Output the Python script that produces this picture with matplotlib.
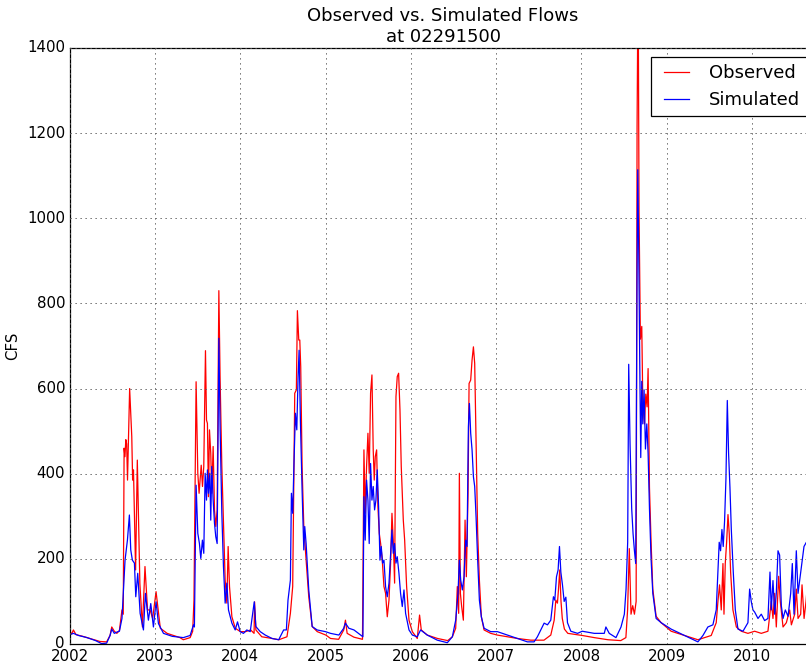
import datetime as dt
import matplotlib
matplotlib.use("Agg")
import matplotlib.pyplot as plt
import matplotlib.dates as mdates

# Observed flows (decimal year, cfs)
obs_t = [
    2002.00, 2002.02, 2002.04, 2002.07, 2002.15, 2002.25, 2002.35, 2002.43, 2002.47, 2002.49,
    2002.52, 2002.55, 2002.58, 2002.61, 2002.625, 2002.635, 2002.645, 2002.655, 2002.665, 2002.675,
    2002.70, 2002.715, 2002.725, 2002.735, 2002.745, 2002.77, 2002.79, 2002.82, 2002.85, 2002.88,
    2002.91, 2002.94, 2002.97, 2003.01, 2003.06, 2003.14, 2003.29, 2003.33, 2003.41, 2003.44,
    2003.455, 2003.48, 2003.50, 2003.515, 2003.54, 2003.555, 2003.57, 2003.59, 2003.602, 2003.613,
    2003.625, 2003.637, 2003.652, 2003.664, 2003.68, 2003.696, 2003.711, 2003.727, 2003.747, 2003.762,
    2003.782, 2003.801, 2003.821, 2003.841, 2003.856, 2003.872, 2003.90, 2003.94, 2004.00, 2004.06,
    2004.12, 2004.16, 2004.166, 2004.181, 2004.25, 2004.37, 2004.45, 2004.545, 2004.585, 2004.612,
    2004.636, 2004.655, 2004.667, 2004.683, 2004.695, 2004.706, 2004.722, 2004.742, 2004.769, 2004.80,
    2004.84, 2004.90, 2005.00, 2005.055, 2005.15, 2005.21, 2005.23, 2005.25, 2005.33, 2005.43,
    2005.447, 2005.462, 2005.478, 2005.494, 2005.509, 2005.525, 2005.541, 2005.556, 2005.568, 2005.58,
    2005.596, 2005.611, 2005.627, 2005.643, 2005.662, 2005.682, 2005.701, 2005.721, 2005.741, 2005.76,
    2005.776, 2005.791, 2005.807, 2005.823, 2005.838, 2005.854, 2005.87, 2005.885, 2005.909, 2005.925,
    2005.948, 2005.976, 2006.015, 2006.073, 2006.10, 2006.12, 2006.19, 2006.31, 2006.43, 2006.485,
    2006.524, 2006.543, 2006.559, 2006.567, 2006.579, 2006.594, 2006.614, 2006.634, 2006.649, 2006.669,
    2006.681, 2006.70, 2006.716, 2006.732, 2006.747, 2006.763, 2006.782, 2006.802, 2006.825, 2006.857,
    2006.935, 2007.013, 2007.131, 2007.248, 2007.405, 2007.56, 2007.64, 2007.68, 2007.699, 2007.718,
    2007.73, 2007.745, 2007.76, 2007.775, 2007.80, 2007.84, 2008.01, 2008.15, 2008.31, 2008.46,
    2008.52, 2008.54, 2008.56, 2008.58, 2008.60, 2008.62, 2008.64, 2008.651, 2008.663, 2008.674,
    2008.69, 2008.706, 2008.718, 2008.737, 2008.753, 2008.768, 2008.78, 2008.796, 2008.815, 2008.835,
    2008.874, 2008.933, 2009.05, 2009.207, 2009.364, 2009.442, 2009.52, 2009.579, 2009.599, 2009.618,
    2009.638, 2009.658, 2009.67, 2009.685, 2009.701, 2009.717, 2009.732, 2009.748, 2009.775, 2009.815,
    2009.873, 2009.951, 2010.03, 2010.108, 2010.186, 2010.225, 2010.245, 2010.265, 2010.284, 2010.312,
    2010.331, 2010.363, 2010.402, 2010.441, 2010.461, 2010.50, 2010.519, 2010.539, 2010.57, 2010.586,
    2010.61, 2010.633, 2010.649, 2010.70, 2010.75,
]
obs_cfs = [
    28, 24, 33, 22, 18, 12, 6, 5, 20, 40,
    30, 25, 32, 80, 70, 460, 440, 480, 470, 385,
    600, 534, 487, 385, 409, 174, 432, 142, 40, 182,
    80, 80, 60, 123, 37, 25, 15, 10, 15, 30,
    103, 616, 401, 354, 420, 370, 417, 689, 526, 518,
    346, 503, 448, 354, 464, 315, 276, 315, 830, 620,
    417, 291, 150, 96, 229, 135, 64, 37, 29, 29,
    33, 25, 99, 33, 17, 13, 10, 17, 72, 135,
    589, 597, 783, 714, 714, 651, 417, 276, 197, 111,
    41, 29, 21, 13, 11, 33, 56, 25, 16, 11,
    456, 307, 417, 495, 401, 589, 632, 456, 385, 440,
    456, 323, 260, 236, 197, 135, 119, 64, 103, 190,
    307, 244, 143, 581, 628, 636, 550, 417, 291, 244,
    135, 56, 29, 13, 68, 33, 21, 13, 8, 17,
    37, 135, 72, 401, 119, 88, 56, 291, 158, 354,
    612, 620, 667, 698, 659, 479, 260, 150, 64, 33,
    25, 21, 17, 13, 9, 9, 21, 56, 103, 96,
    127, 174, 100, 60, 35, 25, 20, 15, 10, 8,
    15, 80, 224, 70, 90, 70, 100, 1215, 1600, 1015,
    716, 746, 567, 517, 587, 557, 647, 368, 239, 129,
    65, 50, 30, 20, 10, 15, 20, 50, 100, 139,
    80, 189, 70, 189, 239, 304, 259, 169, 80, 40,
    30, 25, 30, 25, 30, 100, 60, 119, 40, 159,
    100, 40, 50, 80, 45, 70, 129, 60, 70, 139,
    60, 100, 139, 90, 60,
]

# Simulated flows (decimal year, cfs)
sim_t = [
    2002.00, 2002.04, 2002.10, 2002.20, 2002.30, 2002.37, 2002.43, 2002.47, 2002.49, 2002.52,
    2002.55, 2002.58, 2002.61, 2002.627, 2002.646, 2002.674, 2002.697, 2002.713, 2002.732, 2002.756,
    2002.772, 2002.795, 2002.823, 2002.862, 2002.885, 2002.92, 2002.948, 2002.979, 2003.01, 2003.038,
    2003.097, 2003.20, 2003.33, 2003.41, 2003.449, 2003.46, 2003.48, 2003.50, 2003.519, 2003.535,
    2003.554, 2003.57, 2003.586, 2003.602, 2003.613, 2003.625, 2003.641, 2003.652, 2003.664, 2003.68,
    2003.696, 2003.711, 2003.727, 2003.747, 2003.762, 2003.782, 2003.801, 2003.821, 2003.841, 2003.86,
    2003.90, 2003.939, 2003.966, 2003.997, 2004.036, 2004.075, 2004.115, 2004.162, 2004.181, 2004.232,
    2004.291, 2004.37, 2004.448, 2004.506, 2004.538, 2004.557, 2004.585, 2004.597, 2004.612, 2004.628,
    2004.644, 2004.66, 2004.675, 2004.687, 2004.702, 2004.722, 2004.742, 2004.753, 2004.769, 2004.80,
    2004.84, 2004.898, 2004.996, 2005.055, 2005.153, 2005.21, 2005.23, 2005.27, 2005.33, 2005.41,
    2005.435, 2005.447, 2005.462, 2005.478, 2005.494, 2005.509, 2005.525, 2005.541, 2005.556, 2005.572,
    2005.588, 2005.603, 2005.619, 2005.635, 2005.65, 2005.666, 2005.682, 2005.701, 2005.721, 2005.741,
    2005.76, 2005.776, 2005.791, 2005.807, 2005.823, 2005.838, 2005.858, 2005.877, 2005.897, 2005.917,
    2005.936, 2005.976, 2006.015, 2006.073, 2006.112, 2006.19, 2006.308, 2006.426, 2006.485, 2006.524,
    2006.551, 2006.567, 2006.583, 2006.602, 2006.622, 2006.641, 2006.657, 2006.673, 2006.685, 2006.70,
    2006.716, 2006.732, 2006.747, 2006.763, 2006.782, 2006.802, 2006.825, 2006.857, 2006.935, 2007.013,
    2007.131, 2007.248, 2007.366, 2007.444, 2007.483, 2007.562, 2007.601, 2007.64, 2007.671, 2007.687,
    2007.707, 2007.726, 2007.742, 2007.758, 2007.777, 2007.797, 2007.817, 2007.836, 2007.875, 2007.954,
    2008.009, 2008.15, 2008.267, 2008.286, 2008.325, 2008.404, 2008.463, 2008.502, 2008.522, 2008.541,
    2008.553, 2008.569, 2008.588, 2008.604, 2008.62, 2008.635, 2008.651, 2008.659, 2008.671, 2008.682,
    2008.694, 2008.706, 2008.718, 2008.733, 2008.749, 2008.765, 2008.78, 2008.796, 2008.815, 2008.835,
    2008.874, 2008.933, 2008.972, 2009.05, 2009.207, 2009.364, 2009.423, 2009.481, 2009.54, 2009.579,
    2009.599, 2009.614, 2009.63, 2009.646, 2009.661, 2009.677, 2009.693, 2009.709, 2009.724, 2009.74,
    2009.756, 2009.779, 2009.803, 2009.834, 2009.893, 2009.951, 2009.971, 2009.99, 2010.01, 2010.03,
    2010.069, 2010.108, 2010.147, 2010.186, 2010.21, 2010.225, 2010.245, 2010.265, 2010.284, 2010.304,
    2010.323, 2010.343, 2010.363, 2010.39, 2010.422, 2010.453, 2010.472, 2010.492, 2010.519, 2010.539,
    2010.558, 2010.578, 2010.609, 2010.637, 2010.70, 2010.75,
]
sim_cfs = [
    22, 25, 20, 15, 8, 1, 2, 20, 35, 25,
    28, 30, 60, 127, 197, 244, 303, 221, 197, 190,
    111, 166, 72, 33, 119, 56, 95, 40, 99, 48,
    25, 18, 15, 20, 45, 40, 373, 260, 236, 201,
    244, 213, 401, 338, 409, 354, 401, 291, 417, 338,
    283, 252, 236, 718, 503, 307, 182, 96, 143, 80,
    49, 33, 52, 29, 25, 33, 29, 99, 41, 29,
    21, 13, 10, 33, 33, 103, 150, 354, 307, 432,
    542, 503, 628, 690, 526, 362, 221, 276, 236, 127,
    41, 33, 29, 25, 21, 37, 49, 37, 33, 21,
    17, 346, 244, 385, 338, 236, 424, 338, 370, 315,
    338, 409, 323, 197, 229, 190, 197, 135, 111, 143,
    213, 268, 213, 236, 190, 205, 166, 119, 88, 127,
    72, 33, 21, 17, 33, 21, 9, 3, 17, 56,
    119, 197, 150, 127, 158, 244, 229, 510, 565, 495,
    456, 393, 370, 299, 197, 103, 64, 37, 29, 29,
    21, 13, 5, 5, 17, 49, 45, 56, 111, 103,
    158, 174, 229, 169, 139, 100, 110, 50, 30, 25,
    30, 25, 25, 40, 25, 15, 40, 70, 129, 239,
    657, 468, 318, 259, 219, 189, 876, 1114, 915, 667,
    438, 617, 517, 597, 458, 517, 448, 318, 199, 119,
    60, 50, 45, 35, 20, 5, 20, 40, 45, 80,
    169, 239, 219, 269, 229, 289, 388, 572, 448, 368,
    269, 169, 80, 35, 30, 50, 129, 100, 80, 75,
    60, 70, 55, 60, 169, 80, 149, 70, 119, 219,
    209, 90, 60, 80, 65, 119, 189, 70, 219, 119,
    149, 179, 229, 239, 150, 100,
]


def to_date(t):
    year = int(t)
    start = dt.datetime(year, 1, 1)
    days = (dt.datetime(year + 1, 1, 1) - start).days
    return start + dt.timedelta(days=(t - year) * days)


obs_dates = [to_date(t) for t in obs_t]
sim_dates = [to_date(t) for t in sim_t]

plt.style.use('classic')
plt.rcParams['font.family'] = ['DejaVu Sans']

DPI = 90
fig = plt.figure(figsize=(806 / DPI, 664 / DPI), dpi=DPI, facecolor='white')
ax = fig.add_axes([70 / 806, 20 / 664, 746 / 806, 596 / 664])

ax.plot(obs_dates, obs_cfs, color='r', lw=1.0, label='Observed')
ax.plot(sim_dates, sim_cfs, color='b', lw=1.0, label='Simulated')

ax.set_xlim(obs_dates[0], obs_dates[-1])
ax.set_ylim(0, 1400)
ax.xaxis.set_major_locator(mdates.YearLocator())
ax.xaxis.set_major_formatter(mdates.DateFormatter('%Y'))
ax.tick_params(length=0)
ax.grid(True, color='0.35', linestyle=':', linewidth=0.8)
ax.set_ylabel('CFS')
ax.set_title('Observed vs. Simulated Flows\nat 02291500')
ax.legend(loc='upper right')

fig.savefig('out.png', dpi=DPI, facecolor='white')
